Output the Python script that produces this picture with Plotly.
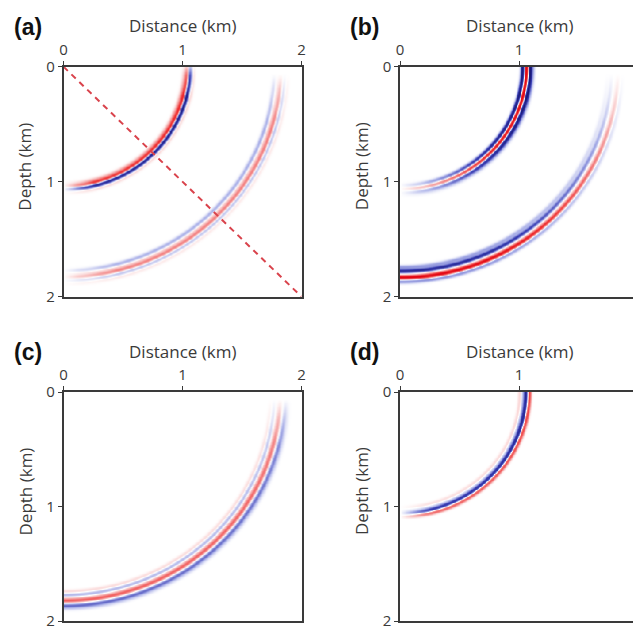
import numpy as np
import plotly.graph_objects as go

W, H = 633, 630

# ---- data ----
panel_labels = ["(a)", "(b)", "(c)", "(d)"]
x_ticks = [0, 1, 2]
y_ticks = [0, 1, 2]
x_title = "Distance (km)"
y_title = "Depth (km)"

# each arc: radius (km), band offsets (km), band amplitudes, taper angles (deg from vertical), taper gains
arcs_a = [
    dict(r=1.05, off=[-0.04, -0.016, 0.012, 0.038], amp=[0.2, 0.75, -1.0, 0.15],
         ang=[0, 4, 14, 76, 86, 90], gain=[0.0, 0.25, 0.85, 1.0, 0.6, 0.2]),
    dict(r=1.83, off=[-0.06, -0.032, -0.005, 0.025, 0.05], amp=[-0.28, 0.12, 0.42, -0.22, 0.08],
         ang=[0, 4, 14, 74, 84, 88], gain=[0.0, 0.35, 0.85, 0.9, 0.4, 0.0]),
]
arcs_b = [
    dict(r=1.06, off=[-0.032, 0.0, 0.032, 0.055], amp=[-1.0, 1.0, -1.0, -0.2],
         ang=[0, 8, 25, 50, 80, 90], gain=[0.0, 0.15, 0.45, 0.85, 1.0, 1.0]),
    dict(r=1.83, off=[-0.09, -0.055, -0.025, 0.0, 0.035], amp=[-0.3, -0.85, 0.1, 1.0, -0.35],
         ang=[0, 25, 45, 65, 80, 88], gain=[1.0, 0.9, 0.6, 0.35, 0.12, 0.0]),
]
arcs_c = [
    dict(r=1.82, off=[-0.08, -0.05, -0.022, 0.0, 0.045, 0.07], amp=[0.1, -0.22, 0.12, 0.45, -0.45, -0.1],
         ang=[0, 60, 75, 83, 88], gain=[1.0, 0.95, 0.8, 0.4, 0.0]),
]
arcs_d = [
    dict(r=1.055, off=[-0.05, -0.025, 0.0, 0.03], amp=[0.12, -0.15, -0.85, 0.6],
         ang=[0, 5, 14, 60, 90], gain=[0.0, 0.3, 0.75, 0.9, 1.0]),
]
panels_arcs = [arcs_a, arcs_b, arcs_c, arcs_d]
dash_line_x = [0, 2]
dash_line_y = [0, 2]

band_sigma = 0.012

# colours
colorscale = [[0.0, "#1a1a7a"], [0.2, "#3a3fb5"], [0.38, "#aab0e8"], [0.5, "#ffffff"],
              [0.62, "#f5a8a8"], [0.8, "#f03a3a"], [1.0, "#e00010"]]

# ---- render field ----
n = 301
gx = np.linspace(0, 2, n)
gy = np.linspace(0, 2, n)
X, Y = np.meshgrid(gx, gy)
R = np.sqrt(X ** 2 + Y ** 2)
TH = np.degrees(np.arctan2(X, Y))


def field(arcs):
    z = np.zeros_like(R)
    for a in arcs:
        g = np.interp(TH, a["ang"], a["gain"])
        prof = np.zeros_like(R)
        for o, am in zip(a["off"], a["amp"]):
            prof += am * np.exp(-0.5 * ((R - a["r"] - o) / band_sigma) ** 2)
        z += g * prof
    return np.round(np.clip(z, -1, 1), 3)


# layout geometry (pixels)
left_px = [63.5, 400, 63.5, 400]
right_px = [301.5, 633, 301.5, 633]
top_px = [66.7, 66.7, 392, 392]
bot_px = [296.7, 296.7, 621, 621]
px_per_km = (301.5 - 63.5) / 2

FONT = "Open Sans"
TXT = "#3a3a3a"

fig = go.Figure()
annotations = []
for i in range(4):
    k = "" if i == 0 else str(i + 1)
    xd = [left_px[i] / W, right_px[i] / W]
    yd = [1 - bot_px[i] / H, 1 - top_px[i] / H]
    xmax = (right_px[i] - left_px[i]) / px_per_km
    fig.add_trace(go.Heatmap(x=gx, y=gy, z=field(panels_arcs[i]), colorscale=colorscale,
                             zmin=-1, zmax=1, showscale=False, zsmooth="best",
                             xaxis="x" + k, yaxis="y" + k, hoverinfo="skip"))
    if i == 0:
        fig.add_trace(go.Scatter(x=dash_line_x, y=dash_line_y, mode="lines",
                                 line=dict(color="#d9434c", width=2, dash="6px,5px"),
                                 xaxis="x", yaxis="y", showlegend=False, hoverinfo="skip"))
    axstyle = dict(showline=True, linecolor="#3a3a3a", linewidth=1.5, ticks="outside",
                   ticklen=4, tickcolor="#3a3a3a", showgrid=False, zeroline=False,
                   automargin=False, ticklabeloverflow="allow",
                   tickfont=dict(family=FONT, size=15, color=TXT))
    fig.layout["xaxis" + k] = dict(domain=xd, range=[0, xmax], side="top", mirror=True,
                                   tickvals=x_ticks, anchor="y" + k, **axstyle)
    fig.layout["yaxis" + k] = dict(domain=yd, range=[2, 0], mirror=(i in (0, 2)),
                                   tickvals=y_ticks, anchor="x" + k, **axstyle)
    cx = (left_px[i] + px_per_km) / W
    annotations.append(dict(text=x_title, x=cx, y=1 - (top_px[i] - 41) / H, xref="paper", yref="paper",
                            showarrow=False, font=dict(family=FONT, size=17, color=TXT),
                            xanchor="center", yanchor="middle"))
    annotations.append(dict(text=y_title, x=(left_px[i] - 38.5) / W, y=1 - ((top_px[i] + bot_px[i]) / 2 - 15) / H,
                            xref="paper", yref="paper", textangle=-90,
                            showarrow=False, font=dict(family=FONT, size=17, color=TXT),
                            xanchor="center", yanchor="middle"))
    annotations.append(dict(text="<b>" + panel_labels[i] + "</b>", x=(left_px[i] - 35.5) / W,
                            y=1 - (top_px[i] - 40) / H, xref="paper", yref="paper",
                            showarrow=False, font=dict(family="Liberation Sans", size=23, color="#111111"),
                            xanchor="center", yanchor="middle"))

fig.update_layout(width=W, height=H, margin=dict(l=0, r=0, t=0, b=0),
                  paper_bgcolor="white", plot_bgcolor="white", annotations=annotations,
                  showlegend=False)
fig.write_html("out.html")
